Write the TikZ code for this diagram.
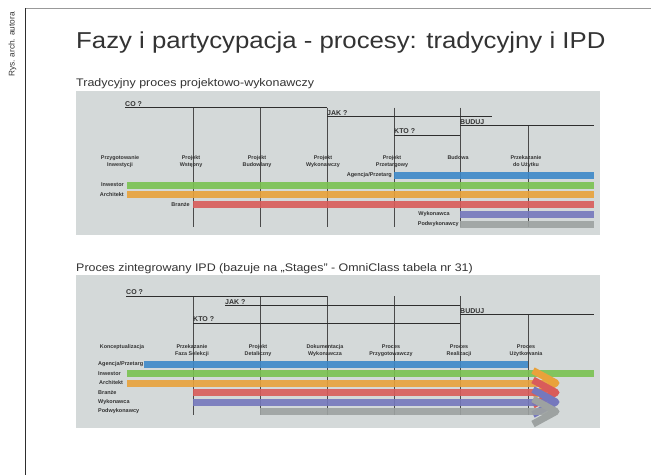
\documentclass[tikz,border=0pt]{standalone}
\usepackage{fontspec}
\setmainfont{Liberation Sans}
\definecolor{panelgray}{HTML}{D4D9D9}
\definecolor{txt}{HTML}{333333}
\definecolor{ink}{HTML}{2E2E2E}
\definecolor{gridcol}{HTML}{4A4A4A}
\definecolor{cgreen}{HTML}{7AC251}
\definecolor{corange}{HTML}{E9A23B}
\definecolor{cred}{HTML}{D95C5A}
\definecolor{cblue}{HTML}{3D89C9}
\definecolor{cpurple}{HTML}{7578BD}
\definecolor{cgray}{HTML}{9DA2A1}
\tikzset{
  panel/.style={fill=panelgray, draw=none},
  phase/.style={font=\bfseries\fontsize{5.4}{7}\selectfont, align=center, text=txt, inner sep=0, anchor=north},
  role/.style={font=\bfseries\fontsize{5.5}{6}\selectfont, text=txt, inner sep=0},
  ask/.style={font=\bfseries\fontsize{7}{8}\selectfont, text=txt, inner sep=0, anchor=south west},
  gate/.style={line width=1pt, draw=ink},
  gridline/.style={line width=1pt, draw=gridcol},
  bar/.style={line width=7pt, draw opacity=0.9},
  chev/.style={line width=7pt, line join=round},
  heading/.style={font=\fontsize{11}{13}\selectfont, text=txt, inner sep=0, anchor=base west, xscale=1.13}
}
\begin{document}
\begin{tikzpicture}[x=1pt,y=-1pt]
\useasboundingbox (0,0) rectangle (651,475);
\fill[white] (0,0) rectangle (651,475);

% page frame and side caption
\draw[line width=0.8pt, draw=gray!80] (25,8) -- (651,8);
\draw[line width=1pt, draw=ink] (25,8) -- (25,475);
\node[rotate=90, font=\fontsize{8.3}{10}\selectfont, text=txt, inner sep=0] (credit) at (12.5,44.5) {Rys. arch. autora};

% title
\node[font=\fontsize{23}{27}\selectfont, text=txt, inner sep=0, anchor=base west, xscale=1.12] (title) at (76,48.5) {Fazy i partycypacja - procesy: tradycyjny i IPD};

% ================= traditional process =================
\node[heading] (h1) at (76,86) {Tradycyjny proces projektowo-wykonawczy};
\fill[panel] (76,91) rectangle (600,235);

% vertical phase boundaries
\foreach \x in {193,260,327,394,460}
  \draw[gridline] (\x,107.5) -- (\x,227);
\draw[gridline] (528,125.5) -- (528,227);

% question lines
\node[ask] (co1) at (125,106.5) {CO ?};
\draw[gate] (125,107.5) -- (327,107.5);
\node[ask] (jak1) at (327,115.5) {JAK ?};
\draw[gate] (327,116.5) -- (492,116.5);
\node[ask] (kto1) at (394,134) {KTO ?};
\draw[gate] (394,135) -- (460,135);
\node[ask] (bud1) at (460,124.5) {BUDUJ};
\draw[gate] (460,125.5) -- (594,125.5);

% phases
\node[phase] (p1a) at (120,155.5) {Przygotowanie\\Inwestycji};
\node[phase] (p1b) at (191,155.5) {Projekt\\Wstępny};
\node[phase] (p1c) at (257,155.5) {Projekt\\Budowlany};
\node[phase] (p1d) at (323,155.5) {Projekt\\Wykonawczy};
\node[phase] (p1e) at (392,155.5) {Projekt\\Przetargowy};
\node[phase] (p1f) at (458,155.5) {Budowa};
\node[phase] (p1g) at (526,155.5) {Przekazanie\\do Użytku};

% participants
\draw[bar, cblue]   (394,175) -- (594,175);
\draw[bar, cgreen]  (127,185) -- (594,185);
\draw[bar, corange] (127,194.7) -- (594,194.7);
\draw[bar, cred]    (193,204.3) -- (594,204.3);
\draw[bar, cpurple] (460,214) -- (594,214);
\draw[bar, cgray]   (460,224) -- (594,224);
\node[role, anchor=east] (r1a) at (392,175) {Agencja/Przetarg};
\node[role, anchor=east] (r1b) at (124,185) {Inwestor};
\node[role, anchor=east] (r1c) at (124,194.7) {Architekt};
\node[role, anchor=east] (r1d) at (190,204.3) {Branże};
\node[role, anchor=east] (r1e) at (450,214) {Wykonawca};
\node[role, anchor=east] (r1f) at (459,224) {Podwykonawcy};

% ================= integrated process =================
\node[heading] (h2) at (76,271) {Proces zintegrowany IPD (bazuje na „Stages" - OmniClass tabela nr 31)};
\fill[panel] (76,275) rectangle (600,428);

\foreach \x in {193,260,327,394,460}
  \draw[gridline] (\x,296) -- (\x,415);
\draw[gridline] (528,314.5) -- (528,415);

\node[ask] (co2) at (126,295) {CO ?};
\draw[gate] (126,296) -- (327,296);
\node[ask] (jak2) at (225,304.5) {JAK ?};
\draw[gate] (225,305.5) -- (460,305.5);
\node[ask] (kto2) at (193,322) {KTO ?};
\draw[gate] (193,323) -- (460,323);
\node[ask] (bud2) at (460,313.5) {BUDUJ};
\draw[gate] (460,314.5) -- (594,314.5);

\node[phase] (p2a) at (122,344.5) {Konceptualizacja};
\node[phase] (p2b) at (192,344.5) {Przekazanie\\Faza Selekcji};
\node[phase] (p2c) at (258,344.5) {Projekt\\Detaliczny};
\node[phase] (p2d) at (325,344.5) {Dokumentacja\\Wykonawcza};
\node[phase] (p2e) at (391,344.5) {Proces\\Przygotowawczy};
\node[phase] (p2f) at (459,344.5) {Proces\\Realizacji};
\node[phase] (p2g) at (526,344.5) {Proces\\Użytkowania};

\draw[bar, cblue]  (144,364) -- (528,364);
\draw[bar, cgreen] (127,373.5) -- (594,373.5);
\foreach \xs/\y/\c in {127/383/corange, 193/392.5/cred, 193/402/cpurple, 260/411.5/cgray} {
  \draw[bar, \c] (\xs,\y) -- (555,\y);
  \draw[chev, \c] (533,\y-12.5) -- (556,\y) -- (533,\y+12.5);
}

\node[role, anchor=west] (r2a) at (98,364) {Agencja/Przetarg};
\node[role, anchor=west] (r2b) at (98,373.5) {Inwestor};
\node[role, anchor=west] (r2c) at (99,383) {Architekt};
\node[role, anchor=west] (r2d) at (98,392.5) {Branże};
\node[role, anchor=west] (r2e) at (98,402) {Wykonawca};
\node[role, anchor=west] (r2f) at (98,411.5) {Podwykonawcy};
\end{tikzpicture}
\end{document}
